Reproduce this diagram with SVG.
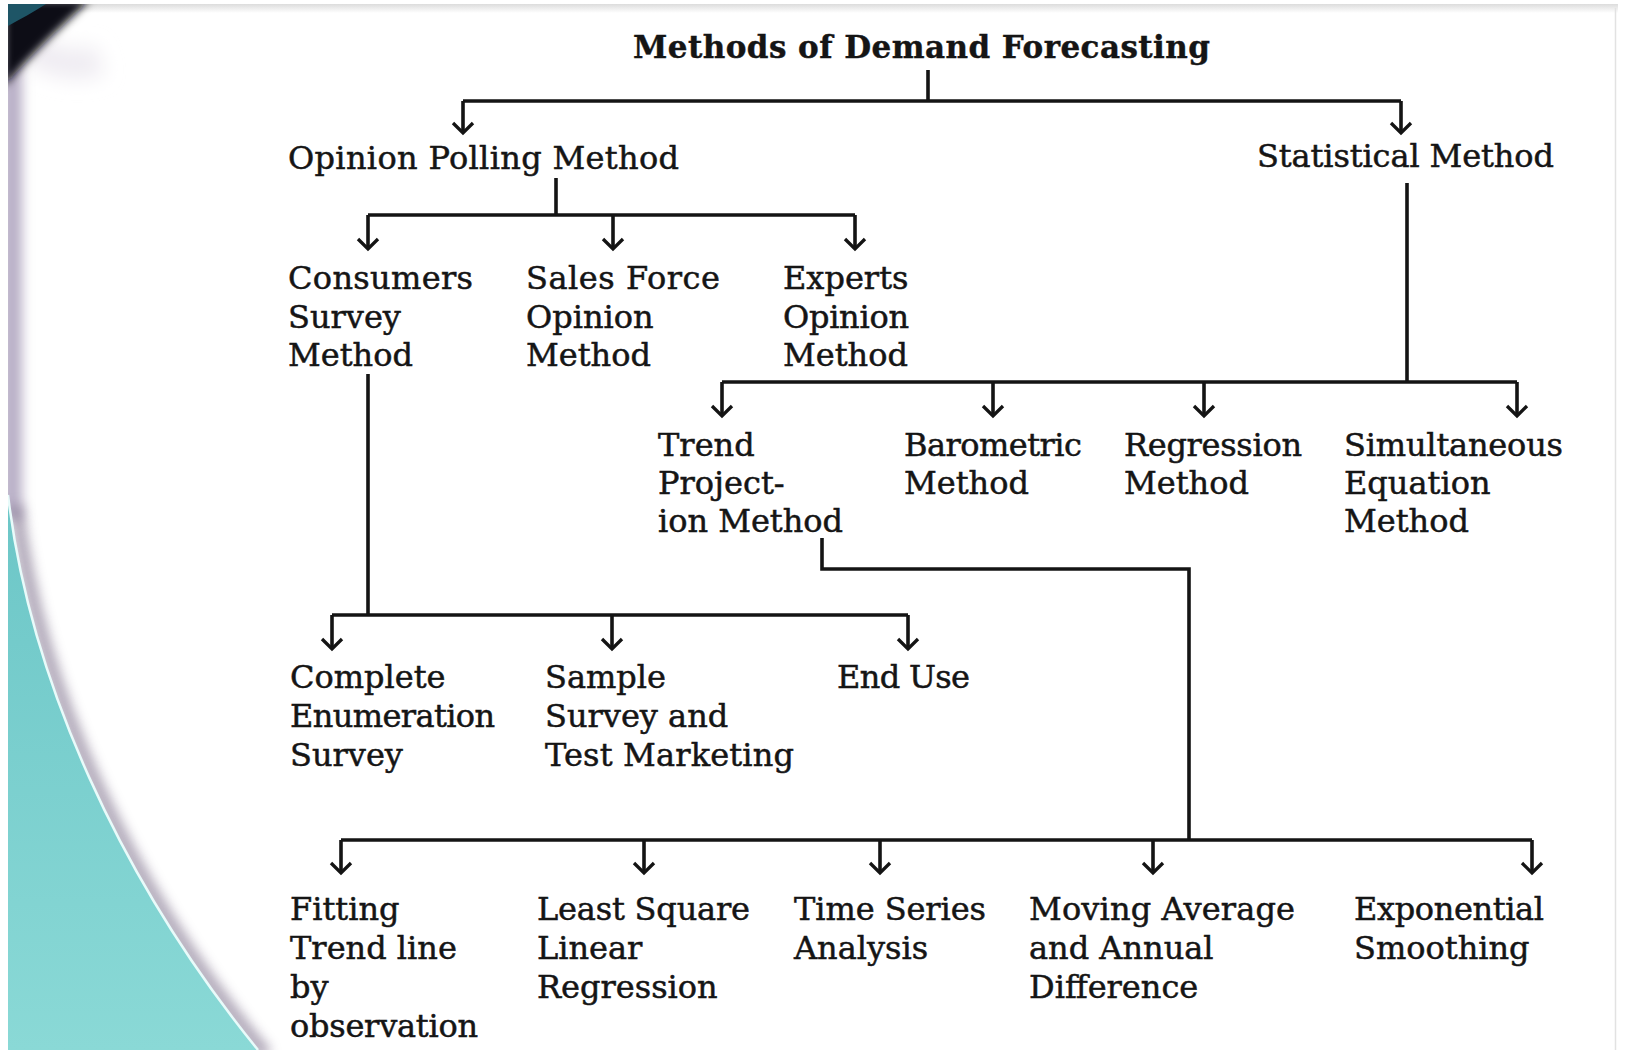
<svg xmlns="http://www.w3.org/2000/svg" width="1625" height="1055" viewBox="0 0 1625 1055">
<defs>
<style>
.t{font-family:"DejaVu Serif","Liberation Serif",serif;font-size:32px;fill:#151515;stroke:#151515;stroke-width:0.5;}
.tb{font-family:"DejaVu Serif","Liberation Serif",serif;font-size:31px;font-weight:bold;fill:#151515;stroke:#151515;stroke-width:0.4;}
.c{fill:none;stroke:#141414;stroke-width:3.6;stroke-linecap:butt;stroke-linejoin:miter;}
.a{marker-end:url(#arr);}
</style>
<marker id="arr" viewBox="-14 -14 28 28" markerWidth="28" markerHeight="28" markerUnits="userSpaceOnUse" orient="auto" refX="0" refY="0">
<path d="M -10 -10 L 0 0 L -10 10" fill="none" stroke="#141414" stroke-width="3.3" stroke-linejoin="miter"/>
</marker>
<linearGradient id="teal" x1="0" y1="0" x2="0" y2="1">
<stop offset="0" stop-color="#6cc6c7"/>
<stop offset="1" stop-color="#8ad9d6"/>
</linearGradient>
<linearGradient id="topband" x1="0" y1="0" x2="0" y2="1">
<stop offset="0" stop-color="#dcdcdc"/>
<stop offset="1" stop-color="#ffffff"/>
</linearGradient>
<filter id="blur6" filterUnits="userSpaceOnUse" x="-100" y="-100" width="600" height="1300"><feGaussianBlur stdDeviation="6"/></filter>
<filter id="blur10" filterUnits="userSpaceOnUse" x="-100" y="-100" width="400" height="400"><feGaussianBlur stdDeviation="10"/></filter>
<filter id="blur4" filterUnits="userSpaceOnUse" x="-100" y="-100" width="400" height="400"><feGaussianBlur stdDeviation="4"/></filter>
</defs>

<g id="background">
<rect x="0" y="0" width="1625" height="1055" fill="#ffffff"/>
<rect x="8" y="4" width="1610" height="9" fill="url(#topband)"/>
<line x1="1615.5" y1="8" x2="1615.5" y2="1050" stroke="#e2e2e2" stroke-width="1.5"/>
<path d="M 12 60 L 12 520" stroke="#b8afc6" stroke-width="20" fill="none" filter="url(#blur6)"/>
<path d="M 20 40 C 45 60, 70 70, 100 60" stroke="#efecf2" stroke-width="30" fill="none" filter="url(#blur10)"/>
<path d="M 16 505 C 38 690, 128 890, 266 1055" stroke="#8c8098" stroke-width="14" fill="none" opacity="0.7" filter="url(#blur6)"/>
<path d="M 8 495 C 30 680, 120 880, 258 1050 L 8 1050 Z" fill="url(#teal)"/>
<path d="M 8 495 C 30 680, 120 880, 258 1050" stroke="#e8fbfa" stroke-width="2.5" fill="none"/>
<path d="M 4 0 L 90 0 C 66 22, 36 50, 4 86 Z" fill="#0c0f14" filter="url(#blur4)"/>
<path d="M 8 4 L 46 4 C 34 12, 20 19, 8 26 Z" fill="#1e5566"/>
<rect x="0" y="0" width="8" height="1055" fill="#ffffff"/>
<rect x="0" y="0" width="1625" height="4" fill="#ffffff"/>
<rect x="0" y="1050" width="1625" height="5" fill="#ffffff"/>
</g>

<g id="connectors">
<path class="c" d="M 928 70 V 101 M 463 101 H 1401"/>
<path class="c a" d="M 463 101 V 133"/>
<path class="c a" d="M 1401 101 V 133"/>
<path class="c" d="M 556 178 V 215 M 368 215 H 855"/>
<path class="c a" d="M 368 215 V 249"/>
<path class="c a" d="M 613 215 V 249"/>
<path class="c a" d="M 855 215 V 249"/>
<path class="c" d="M 1407 183 V 382 M 722 382 H 1517"/>
<path class="c a" d="M 722 382 V 416"/>
<path class="c a" d="M 993 382 V 416"/>
<path class="c a" d="M 1204 382 V 416"/>
<path class="c a" d="M 1517 382 V 416"/>
<path class="c" d="M 368 374 V 615 M 332 615 H 908"/>
<path class="c a" d="M 332 615 V 649"/>
<path class="c a" d="M 612 615 V 649"/>
<path class="c a" d="M 908 615 V 649"/>
<path class="c" d="M 822 538 V 569 H 1189 V 840 M 341 840 H 1532"/>
<path class="c a" d="M 341 840 V 873"/>
<path class="c a" d="M 644 840 V 873"/>
<path class="c a" d="M 880 840 V 873"/>
<path class="c a" d="M 1153 840 V 873"/>
<path class="c a" d="M 1532 840 V 873"/>
</g>

<g id="title"><text class="tb" x="633" y="58" textLength="577">Methods of Demand Forecasting</text></g>
<g id="opinion-polling"><text class="t" x="288" y="169" textLength="391">Opinion Polling Method</text></g>
<g id="statistical"><text class="t" x="1257" y="167" textLength="297">Statistical Method</text></g>
<g id="consumers-survey"><text class="t" x="288" y="289" textLength="185">Consumers</text><text class="t" x="288" y="328">Survey</text><text class="t" x="288" y="366">Method</text></g>
<g id="sales-force"><text class="t" x="526" y="289" textLength="194">Sales Force</text><text class="t" x="526" y="328">Opinion</text><text class="t" x="526" y="366">Method</text></g>
<g id="experts"><text class="t" x="783" y="289">Experts</text><text class="t" x="783" y="328" textLength="126">Opinion</text><text class="t" x="783" y="366">Method</text></g>
<g id="trend-projection"><text class="t" x="658" y="456">Trend</text><text class="t" x="658" y="494">Project-</text><text class="t" x="658" y="532" textLength="185">ion Method</text></g>
<g id="barometric"><text class="t" x="904" y="456" textLength="178">Barometric</text><text class="t" x="904" y="494">Method</text></g>
<g id="regression"><text class="t" x="1124" y="456" textLength="178">Regression</text><text class="t" x="1124" y="494">Method</text></g>
<g id="simultaneous"><text class="t" x="1344" y="456" textLength="219">Simultaneous</text><text class="t" x="1344" y="494">Equation</text><text class="t" x="1344" y="532">Method</text></g>
<g id="complete-enumeration"><text class="t" x="290" y="688">Complete</text><text class="t" x="290" y="727" textLength="205">Enumeration</text><text class="t" x="290" y="766">Survey</text></g>
<g id="sample-survey"><text class="t" x="545" y="688">Sample</text><text class="t" x="545" y="727">Survey and</text><text class="t" x="545" y="766" textLength="249">Test Marketing</text></g>
<g id="end-use"><text class="t" x="837" y="688" textLength="133">End Use</text></g>
<g id="fitting-trend"><text class="t" x="290" y="920">Fitting</text><text class="t" x="290" y="959">Trend line</text><text class="t" x="290" y="998">by</text><text class="t" x="290" y="1037" textLength="188">observation</text></g>
<g id="least-square"><text class="t" x="537" y="920" textLength="213">Least Square</text><text class="t" x="537" y="959">Linear</text><text class="t" x="537" y="998">Regression</text></g>
<g id="time-series"><text class="t" x="794" y="920" textLength="192">Time Series</text><text class="t" x="794" y="959">Analysis</text></g>
<g id="moving-average"><text class="t" x="1029" y="920" textLength="266">Moving Average</text><text class="t" x="1029" y="959">and Annual</text><text class="t" x="1029" y="998">Difference</text></g>
<g id="exponential"><text class="t" x="1354" y="920" textLength="190">Exponential</text><text class="t" x="1354" y="959">Smoothing</text></g>
</svg>
